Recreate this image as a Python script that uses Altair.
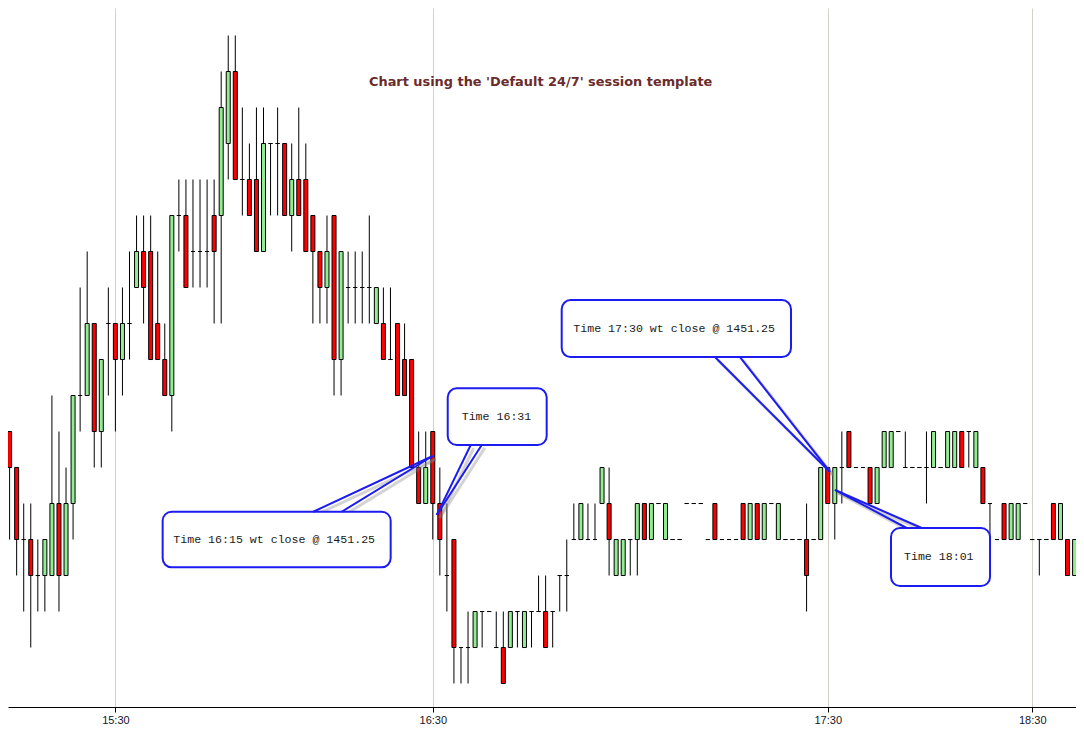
import altair as alt
import pandas as pd

# ---------------- data (one bar per index) ----------------
OPEN = [
    1451.75, 1451.5, 1451.25, 1450.75, 1450.75, 1450.5, 1450.5, 1450.5, 1451, 1450.5,
    1451, 1451.75, 1451.75, 1452.25, 1451.5, 1452.25, 1452.25, 1452, 1452.25, 1452.5,
    1452.75, 1452.75, 1452.25, 1452, 1451.75, 1453, 1453, 1452.75, 1452.75, 1452.75,
    1453, 1453, 1453.5, 1454, 1453.25, 1453.25, 1453.25, 1452.75, 1453.5, 1453.5,
    1453.5, 1453, 1453.25, 1453.25, 1453, 1452.75, 1452.5, 1453, 1452, 1452.5,
    1452.5, 1452.5, 1452.5, 1452.25, 1452.25, 1452, 1452.25, 1452, 1452, 1451.25,
    1451, 1451.5, 1451, 1450.5, 1450.75, 1450, 1450, 1450, 1450.25, 1450.25,
    1450, 1450, 1450, 1450.25, 1450, 1450.25, 1450.25, 1450.25, 1450.25, 1450.5,
    1450.5, 1450.75, 1450.75, 1450.75, 1450.75, 1451, 1451, 1450.5, 1450.5, 1450.75,
    1450.75, 1451, 1450.75, 1451, 1450.75, 1450.75, 1450.75, 1451, 1451, 1451,
    1450.75, 1451, 1450.75, 1450.75, 1450.75, 1451, 1450.75, 1451, 1450.75, 1451,
    1450.75, 1450.75, 1450.75, 1450.75, 1450.75, 1450.75, 1450.75, 1451.25, 1451, 1451.25,
    1451.5, 1451.25, 1451.25, 1451.25, 1451, 1451.25, 1451.25, 1451.5, 1451.25, 1451.25,
    1451.25, 1451.25, 1451.25, 1451.25, 1451.25, 1451.25, 1451.5, 1451.5, 1451.25, 1451.25,
    1451, 1450.75, 1451, 1450.75, 1450.75, 1451, 1450.75, 1450.75, 1450.75, 1451,
    1450.75, 1450.75, 1450.5, 1450.5,
]
HIGH = [
    1451.75, 1451.5, 1451.25, 1451, 1451, 1450.75, 1450.75, 1451.75, 1451.5, 1451.25,
    1451.75, 1452.5, 1452.75, 1452.25, 1452, 1452.5, 1452.25, 1452.5, 1452.75, 1453,
    1453, 1453, 1452.75, 1452.25, 1453, 1453.25, 1453.25, 1453.25, 1453.25, 1453.25,
    1453.25, 1454, 1454.25, 1454.25, 1453.75, 1453.5, 1453.75, 1453.75, 1453.5, 1453.75,
    1453.5, 1453.5, 1453.75, 1453.5, 1453, 1452.75, 1453, 1453, 1452.75, 1452.75,
    1452.75, 1452.75, 1453, 1452.5, 1452.5, 1452.5, 1452.25, 1452.25, 1452, 1451.5,
    1451.5, 1451.5, 1451.25, 1451, 1450.75, 1450, 1450.25, 1450.25, 1450.25, 1450.25,
    1450.25, 1450.25, 1450.25, 1450.25, 1450.25, 1450.25, 1450.5, 1450.5, 1450.25, 1450.5,
    1450.75, 1451, 1451, 1451, 1451, 1451.25, 1451.25, 1450.75, 1450.75, 1450.75,
    1451, 1451, 1451, 1451, 1451, 1450.75, 1450.75, 1451, 1451, 1451,
    1450.75, 1451, 1450.75, 1450.75, 1450.75, 1451, 1451, 1451, 1451, 1451,
    1451, 1450.75, 1450.75, 1450.75, 1451, 1450.75, 1451.25, 1451.25, 1451.25, 1451.5,
    1451.5, 1451.25, 1451.25, 1451.25, 1451.25, 1451.5, 1451.5, 1451.5, 1451.5, 1451.25,
    1451.25, 1451.5, 1451.5, 1451.25, 1451.5, 1451.5, 1451.5, 1451.5, 1451.5, 1451.25,
    1451, 1450.75, 1451, 1451, 1451, 1451, 1450.75, 1450.75, 1450.75, 1451,
    1451, 1450.75, 1450.75, 1450.5,
]
LOW = [
    1451, 1450.75, 1450.5, 1450.25, 1450, 1450.25, 1450.25, 1450.5, 1450.25, 1450.5,
    1450.75, 1451.5, 1451.75, 1451.25, 1451.25, 1451.75, 1451.5, 1451.75, 1452, 1452.5,
    1452.25, 1452, 1452, 1451.75, 1451.5, 1452.75, 1452.5, 1452.5, 1452.5, 1452.5,
    1452.25, 1452.25, 1453.25, 1453.25, 1453, 1453, 1452.75, 1452.75, 1453, 1453,
    1453, 1452.75, 1453, 1452.75, 1452.25, 1452.25, 1452.25, 1451.75, 1451.75, 1452.25,
    1452.25, 1452.25, 1452.25, 1452.25, 1452, 1452, 1451.75, 1451.75, 1451.25, 1451,
    1451, 1450.75, 1450.5, 1450.25, 1449.75, 1449.75, 1449.75, 1450, 1450, 1450.25,
    1450, 1449.75, 1450, 1450, 1450, 1450, 1450.25, 1450, 1450, 1450.25,
    1450.25, 1450.75, 1450.75, 1450.75, 1450.75, 1451, 1450.5, 1450.5, 1450.5, 1450.5,
    1450.5, 1450.75, 1450.75, 1451, 1450.75, 1450.75, 1450.75, 1451, 1451, 1451,
    1450.75, 1450.75, 1450.75, 1450.75, 1450.75, 1450.75, 1450.75, 1450.75, 1450.75, 1451,
    1450.75, 1450.75, 1450.75, 1450.75, 1450.25, 1450.75, 1450.75, 1451, 1450.75, 1451,
    1451.25, 1451.25, 1451.25, 1451, 1451, 1451.25, 1451.25, 1451.5, 1451.25, 1451.25,
    1451.25, 1451, 1451.25, 1451.25, 1451.25, 1451.25, 1451.25, 1451.25, 1451.25, 1451,
    1450.75, 1450.75, 1450.75, 1450.75, 1450.75, 1451, 1450.75, 1450.5, 1450.75, 1450.75,
    1450.75, 1450.5, 1450.5, 1450.5,
]
CLOSE = [
    1451.5, 1451.25, 1450.75, 1450.75, 1450.5, 1450.5, 1450.75, 1451, 1450.5, 1451,
    1451.75, 1451.75, 1452.25, 1451.5, 1452, 1452.25, 1452, 1452.25, 1452.25, 1452.75,
    1452.5, 1452, 1452, 1451.75, 1453, 1453, 1452.5, 1452.75, 1452.75, 1452.75,
    1452.75, 1453.75, 1454, 1453.25, 1453.25, 1453, 1452.75, 1453.5, 1453.5, 1453.5,
    1453, 1453.25, 1453, 1452.75, 1452.75, 1452.5, 1452.75, 1452, 1452.75, 1452.5,
    1452.5, 1452.5, 1452.5, 1452.5, 1452, 1452, 1451.75, 1451.75, 1451.25, 1451,
    1451.25, 1451, 1450.75, 1450.5, 1450, 1450, 1450, 1450.25, 1450.25, 1450.25,
    1450, 1449.75, 1450.25, 1450.25, 1450.25, 1450.25, 1450.25, 1450, 1450.25, 1450.5,
    1450.5, 1450.75, 1451, 1450.75, 1450.75, 1451.25, 1450.75, 1450.75, 1450.75, 1450.75,
    1451, 1450.75, 1451, 1451, 1451, 1450.75, 1450.75, 1451, 1451, 1451,
    1450.75, 1450.75, 1450.75, 1450.75, 1450.75, 1450.75, 1451, 1450.75, 1451, 1451,
    1451, 1450.75, 1450.75, 1450.75, 1450.5, 1450.75, 1451.25, 1451, 1451.25, 1451.25,
    1451.25, 1451.25, 1451.25, 1451, 1451.25, 1451.5, 1451.5, 1451.5, 1451.25, 1451.25,
    1451.25, 1451.25, 1451.5, 1451.25, 1451.5, 1451.5, 1451.25, 1451.5, 1451.5, 1451,
    1451, 1450.75, 1450.75, 1451, 1451, 1451, 1450.75, 1450.75, 1450.75, 1450.75,
    1451, 1450.5, 1450.75, 1450.5,
]

TICK_BARS = [16, 61, 117, 146]
TICK_LABELS = ["15:30", "16:30", "17:30", "18:30"]

TITLE = "Chart using the 'Default 24/7' session template"
TITLE_X = [76.3]
TITLE_Y = [1453.93]

# callouts, positioned in (bar index, price) units
CALLOUT_TEXT = ["Time 16:15 wt close @ 1451.25", "Time 16:31",
                "Time 17:30 wt close @ 1451.25", "Time 18:01"]
BOX_LEFT = [22.70, 63.12, 79.28, 125.97]
BOX_RIGHT = [55.03, 77.15, 111.79, 140.01]
BOX_TOP = [1450.943, 1451.800, 1452.413, 1450.830]
BOX_BOTTOM = [1450.557, 1451.406, 1452.017, 1450.427]
TEXT_X = [24.21, 65.10, 80.92, 127.81]
TEXT_Y = [1450.747, 1451.603, 1452.214, 1450.628]
WEDGE_BASE_L = [44.06, 66.38, 101.01, 128.19]
WEDGE_BASE_R = [48.09, 67.94, 104.56, 130.32]
WEDGE_BASE_Y = [1450.943, 1451.406, 1452.017, 1450.830]
TIP_X = [60.99, 61.56, 117.32, 118.03]
TIP_Y = [1451.330, 1450.920, 1451.219, 1451.094]

# ---------------- frames ----------------
bars = pd.DataFrame({"bar": list(range(len(OPEN))), "open": OPEN, "high": HIGH,
                     "low": LOW, "close": CLOSE})
bars["dir"] = ["up" if c > o else ("down" if c < o else "flat") for o, c in zip(OPEN, CLOSE)]

boxes = pd.DataFrame({"x1": BOX_LEFT, "x2": BOX_RIGHT, "y1": BOX_TOP, "y2": BOX_BOTTOM})
texts = pd.DataFrame({"x": TEXT_X, "y": TEXT_Y, "label": CALLOUT_TEXT})
title_df = pd.DataFrame({"x": TITLE_X, "y": TITLE_Y, "label": [TITLE]})

wedge_rows, line_rows = [], []
for n in range(len(CALLOUT_TEXT)):
    by = WEDGE_BASE_Y[n]
    centre = (BOX_TOP[n] + BOX_BOTTOM[n]) / 2
    s = 1 if centre > by else -1
    wedge_rows += [
        {"w": n, "o": 0, "y": TIP_Y[n], "xa": TIP_X[n], "xb": TIP_X[n]},
        {"w": n, "o": 1, "y": by - s * 0.010, "xa": WEDGE_BASE_L[n], "xb": WEDGE_BASE_R[n]},
        {"w": n, "o": 2, "y": by + s * 0.030, "xa": WEDGE_BASE_L[n], "xb": WEDGE_BASE_R[n]},
    ]
    for side, bx in (("L", WEDGE_BASE_L[n]), ("R", WEDGE_BASE_R[n])):
        line_rows += [
            {"seg": f"{n}{side}", "o": 0, "x": bx, "y": by},
            {"seg": f"{n}{side}", "o": 1, "x": TIP_X[n], "y": TIP_Y[n]},
        ]
wedges = pd.DataFrame(wedge_rows)
wlines = pd.DataFrame(line_rows)

# ---------------- scales / axes ----------------
XS = alt.Scale(domain=[0.773, 152.20], nice=False, zero=False, padding=0)
YS = alt.Scale(domain=[1449.587, 1454.441], nice=False, zero=False, padding=0)

label_expr = "''"
for b, lab in reversed(list(zip(TICK_BARS, TICK_LABELS))):
    label_expr = f"datum.value == {b} ? '{lab}' : ({label_expr})"

XAXIS = alt.Axis(values=TICK_BARS, labelExpr=label_expr, title=None, grid=True,
                 gridColor="#d4d1c6", gridWidth=1, domainColor="#000000", domainWidth=1,
                 tickColor="#000000", tickSize=5, tickWidth=1, labelFont="Liberation Sans",
                 labelFontSize=11, labelColor="#141428", labelPadding=2,
                 labelFlush=False, labelOverlap=False)


def X(f):
    return alt.X(f"{f}:Q", scale=XS, axis=XAXIS)


def Y(f):
    return alt.Y(f"{f}:Q", scale=YS, axis=None)


BLUE = "#1c1cf0"

wicks = alt.Chart(bars).mark_rule(color="#000000", strokeWidth=1).encode(
    x=X("bar"), y=Y("high"), y2=alt.Y2("low"))

bodies = alt.Chart(bars).mark_bar(size=4, stroke="#000000", strokeWidth=1).encode(
    x=X("bar"), y=Y("open"), y2=alt.Y2("close"),
    color=alt.Color("dir:N", scale=alt.Scale(domain=["up", "down", "flat"],
                                             range=["#90ee90", "#ff0000", "#000000"]),
                    legend=None))

box_shadow = alt.Chart(boxes).mark_rect(cornerRadius=9, fill="#808080", opacity=0.35,
                                        xOffset=4, yOffset=4).encode(
    x=X("x1"), x2=alt.X2("x2"), y=Y("y1"), y2=alt.Y2("y2"))

line_shadow = alt.Chart(wlines).mark_line(color="#808080", opacity=0.35, strokeWidth=3,
                                          xOffset=3, yOffset=3).encode(
    x=X("x"), y=Y("y"), detail="seg:N", order="o:Q")

box = alt.Chart(boxes).mark_rect(cornerRadius=9, fill="#ffffff", stroke=BLUE,
                                 strokeWidth=2).encode(
    x=X("x1"), x2=alt.X2("x2"), y=Y("y1"), y2=alt.Y2("y2"))

wedge_fill = alt.Chart(wedges).mark_area(orient="horizontal", fill="#ffffff",
                                         interpolate="linear").encode(
    y=Y("y"), x=X("xa"), x2=alt.X2("xb"), detail="w:N", order="o:Q")

wedge_line = alt.Chart(wlines).mark_line(color=BLUE, strokeWidth=2).encode(
    x=X("x"), y=Y("y"), detail="seg:N", order="o:Q")

callout_text = alt.Chart(texts).mark_text(align="left", baseline="middle",
                                          font="Liberation Mono", fontSize=11.6,
                                          color="#1a1a1a").encode(
    x=X("x"), y=Y("y"), text="label:N")

title = alt.Chart(title_df).mark_text(align="center", baseline="middle",
                                      font="DejaVu Sans", fontSize=12.9, fontWeight="bold",
                                      color="#6b2b2b").encode(
    x=X("x"), y=Y("y"), text="label:N")

chart = alt.layer(
    wicks, bodies, box_shadow, line_shadow, box, wedge_fill, wedge_line, callout_text, title
).properties(
    width=1068, height=699,
    autosize=alt.AutoSizeParams(type="none"),
    padding={"left": 0, "top": 0, "right": 0, "bottom": 19},
).configure(
    background="#ffffff",
    view=alt.ViewConfig(strokeWidth=0),
)

chart.save("out.html", embed_options={"renderer": "svg", "actions": False})
